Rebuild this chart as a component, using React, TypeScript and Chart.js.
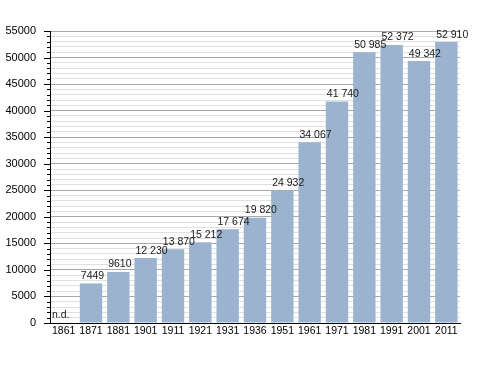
import React, { useEffect, useRef } from "react";
import { Chart, registerables } from "chart.js";

Chart.register(...registerables);

const years = ["1861", "1871", "1881", "1901", "1911", "1921", "1931", "1936", "1951", "1961", "1971", "1981", "1991", "2001", "2011"];
const population: (number | null)[] = [null, 7449, 9610, 12230, 13870, 15212, 17674, 19820, 24932, 34067, 41740, 50985, 52372, 49342, 52910];
const valueLabels = ["n.d.", "7449", "9610", "12 230", "13 870", "15 212", "17 674", "19 820", "24 932", "34 067", "41 740", "50 985", "52 372", "49 342", "52 910"];
const yMax = 55000;
const yMajorStep = 5000;
const yMinorStep = 1000;

const FONT = "'Liberation Sans', Arial, sans-serif";

export default function App() {
  const ref = useRef<HTMLCanvasElement>(null);
  useEffect(() => {
    const canvas = ref.current!;
    const labelPlugin = {
      id: "labels",
      afterDatasetsDraw(chart: any) {
        const ctx = chart.ctx;
        const meta = chart.getDatasetMeta(0);
        const yScale = chart.scales.y;
        ctx.save();
        ctx.fillStyle = "#1a1a1a";
        ctx.font = `10.5px ${FONT}`;
        ctx.textAlign = "left";
        ctx.textBaseline = "alphabetic";
        meta.data.forEach((bar: any, i: number) => {
          const v = population[i];
          if (v == null) {
            ctx.fillText(valueLabels[i], chart.chartArea.left + 2, yScale.getPixelForValue(0) - 5);
          } else {
            ctx.fillText(valueLabels[i], bar.x - bar.width / 2 + 1, bar.y - 4.5);
          }
        });
        // minor ticks on y axis
        const left = chart.chartArea.left;
        ctx.strokeStyle = "#000";
        ctx.lineWidth = 1;
        for (let v = 0; v <= yMax; v += yMinorStep) {
          const y = Math.round(yScale.getPixelForValue(v)) + 0.5;
          const len = v % yMajorStep === 0 ? 6 : 3;
          ctx.beginPath();
          ctx.moveTo(left - len, y);
          ctx.lineTo(left, y);
          ctx.stroke();
        }
        ctx.restore();
      },
    };
    const chart = new Chart(canvas, {
      type: "bar",
      data: {
        labels: years,
        datasets: [
          {
            data: population,
            backgroundColor: "#9bb3cf",
            borderWidth: 0,
            barPercentage: 0.82,
            categoryPercentage: 1,
          },
        ],
      },
      options: {
        animation: false,
        responsive: false,
        maintainAspectRatio: false,
        layout: { padding: { top: 31, right: 28, left: 0, bottom: 0 } },
        plugins: { legend: { display: false }, tooltip: { enabled: false } },
        scales: {
          x: {
            grid: { display: false, drawTicks: false },
            border: { display: true, color: "#000", width: 1 },
            ticks: { color: "#000", font: { family: FONT, size: 10.5 }, padding: 2, maxRotation: 0, autoSkip: false },
            afterFit: (s: any) => { s.height = 50; },
          },
          y: {
            min: 0,
            max: yMax,
            grid: {
              color: (c: any) => (c.tick && c.tick.value % yMajorStep === 0 ? "#a8a8a8" : "#e0e0e0"),
              drawTicks: false,
              lineWidth: 1,
            },
            border: { display: true, color: "#000", width: 1 },
            ticks: {
              stepSize: yMinorStep,
              autoSkip: false,
              color: "#000",
              font: { family: FONT, size: 11 },
              padding: 14,
              callback: (v: any) => (Number(v) % yMajorStep === 0 ? String(v) : ""),
            },
            afterFit: (s: any) => { s.width = 50; },
          },
        },
      },
      plugins: [labelPlugin],
    });
    return () => chart.destroy();
  }, []);
  return (
    <div style={{ position: "absolute", left: 0, top: 0, width: 488, height: 373, background: "#fff" }}>
      <canvas ref={ref} width={488} height={373} style={{ width: 488, height: 373 }} />
    </div>
  );
}
